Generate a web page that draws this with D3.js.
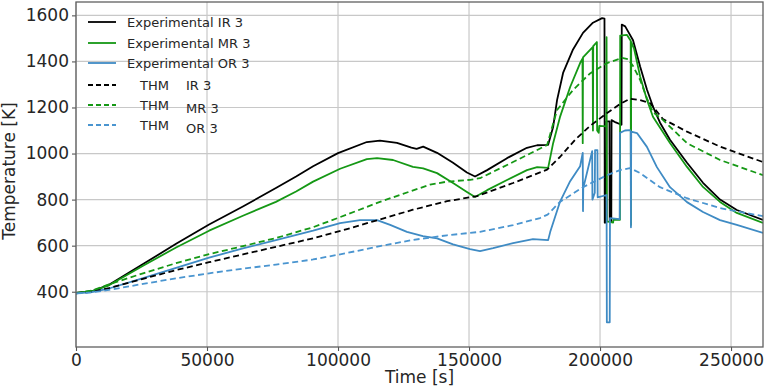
<!DOCTYPE html>
<html lang="en">
<head>
    <meta charset="UTF-8">
    <title>Temperature</title>
    <script src="https://d3js.org/d3.v7.min.js"></script>
    <style>
        body { margin: 0; background: #fff; }
        text { font-family: "DejaVu Sans", sans-serif; fill: #262626; }
    </style>
</head>
<body>
    <div class="chart"></div>
    <script>
        // series: [time s, temperature K]
        const irExp = [[0,395],[6000,402],[12600,430],[25600,520],[38200,608],[50800,692],[63700,770],[76300,850],[84000,900],[90500,945],[100000,1002],[111000,1050],[116000,1056],[122500,1046],[128000,1026],[130000,1020],[132500,1030],[137800,1003],[143900,960],[149200,918],[152300,900],[156900,928],[164500,980],[172100,1025],[176000,1036],[180200,1038],[182100,1115],[183600,1232],[185900,1350],[189700,1452],[193500,1524],[197300,1568],[200800,1588],[201700,1586],[201800,700],[202400,700],[202500,1140],[203600,1140],[203700,705],[204300,705],[204400,1145],[206000,1135],[208200,1125],[208300,1560],[209600,1552],[212600,1492],[215300,1378],[217900,1278],[220200,1204],[222900,1134],[226700,1060],[233200,960],[239300,873],[245800,800],[252200,755],[262200,712]];
        const mrExp = [[0,395],[6000,402],[12600,428],[25600,513],[38200,592],[50800,665],[63700,730],[76300,790],[84000,835],[90500,878],[100800,934],[111000,976],[114900,980],[121000,972],[128600,942],[132500,936],[137800,915],[143900,872],[149200,833],[152300,811],[156900,841],[164500,885],[172100,928],[176000,941],[180200,938],[182100,1045],[184700,1158],[188600,1289],[192400,1393],[193300,1412],[193400,1045],[193500,1418],[197200,1462],[197300,1100],[197400,1466],[198800,1484],[198900,1100],[199500,1090],[199700,1120],[202400,1118],[202500,1505],[202600,705],[205000,700],[205100,712],[207600,712],[207700,1512],[210300,1515],[211700,1490],[211800,690],[211900,1485],[213000,1455],[215300,1335],[217900,1234],[220200,1160],[226700,1046],[233200,942],[239300,855],[245800,790],[252200,742],[262200,699]];
        const orExp = [[0,393],[6000,398],[12600,414],[25600,459],[38200,504],[50800,548],[63700,588],[76300,624],[90500,665],[100800,698],[108400,711],[114900,711],[119900,690],[126300,660],[132400,641],[137800,632],[143900,606],[150400,585],[154200,576],[159200,589],[166800,611],[174400,628],[180200,624],[181000,660],[184700,790],[188600,880],[192400,945],[193400,1003],[193500,750],[193600,850],[197000,1010],[197100,800],[198000,830],[198100,1015],[199000,1015],[199100,810],[202500,820],[202600,267],[203700,267],[203800,720],[207500,715],[207600,1090],[209500,1100],[211400,1102],[211700,1098],[211800,680],[211900,1095],[214100,1089],[217900,1029],[221700,941],[226700,854],[233200,789],[239300,746],[245800,711],[252200,690],[262200,655]];
        const thmIR = [[0,393],[6000,400],[12600,416],[25600,456],[38200,494],[50800,528],[63700,562],[76300,595],[90500,632],[103400,672],[116000,714],[128600,756],[141600,793],[153000,815],[166800,872],[179800,930],[184700,985],[190500,1060],[196200,1120],[202700,1176],[207600,1215],[211400,1238],[215300,1232],[219100,1219],[224000,1150],[233200,1095],[245800,1030],[262200,963]];
        const thmMR = [[0,393],[6000,405],[12600,432],[25600,480],[38200,524],[50800,563],[63700,598],[76300,633],[90500,680],[103400,735],[116000,790],[124800,825],[135100,865],[141600,878],[150400,886],[154200,893],[166800,963],[179800,1037],[183600,1189],[189700,1276],[196200,1348],[202700,1393],[208400,1415],[210700,1410],[212600,1380],[215300,1320],[217900,1240],[220200,1180],[224000,1146],[233200,1045],[245800,972],[262200,906]];
        const thmOR = [[0,393],[6000,397],[12600,408],[25600,434],[38200,458],[50800,480],[63700,500],[76300,518],[90500,540],[103400,568],[116000,598],[128600,625],[141600,645],[154200,660],[166800,689],[177100,720],[180000,735],[184700,790],[193500,854],[202700,906],[207600,928],[211400,937],[215300,915],[222900,854],[233200,806],[245800,763],[262200,728]];

        const xTicks = [0, 50000, 100000, 150000, 200000, 250000];
        const yTicks = [400, 600, 800, 1000, 1200, 1400, 1600];

        const w = 768, h = 388,
            margin = { top: 2, right: 5, bottom: 41, left: 76 };

        let svg = d3.select(".chart").append("svg").attr("width", w).attr("height", h);

        const x = d3.scaleLinear().domain([0, 262200]).range([margin.left, w - margin.right]);
        const y = d3.scaleLinear().domain([160, 1658]).range([h - margin.bottom, margin.top]);

        // grid
        svg.append("g").selectAll("line").data(xTicks).enter().append("line")
            .attr("x1", d => x(d)).attr("x2", d => x(d))
            .attr("y1", margin.top).attr("y2", h - margin.bottom)
            .attr("stroke", "#c8c8c8").attr("stroke-width", 1.2);
        svg.append("g").selectAll("line").data(yTicks).enter().append("line")
            .attr("x1", margin.left).attr("x2", w - margin.right)
            .attr("y1", d => y(d)).attr("y2", d => y(d))
            .attr("stroke", "#c8c8c8").attr("stroke-width", 1.2);

        // axes
        const xAxis = svg.append("g")
            .attr("transform", `translate(0, ${h - margin.bottom})`)
            .call(d3.axisBottom(x).tickValues(xTicks).tickFormat(d3.format("d")).tickSizeOuter(0).tickSize(4).tickPadding(3));
        const yAxis = svg.append("g")
            .attr("transform", `translate(${margin.left}, 0)`)
            .call(d3.axisLeft(y).tickValues(yTicks).tickFormat(d3.format("d")).tickSizeOuter(0).tickSize(4).tickPadding(3));
        [xAxis, yAxis].forEach(a => {
            a.select(".domain").remove();
            a.selectAll(".tick line").attr("stroke", "#555").attr("stroke-width", 1.1);
            a.selectAll("text").style("font-size", "17px").style("font-family", "DejaVu Sans").attr("fill", "#262626");
        });

        // clip + lines
        svg.append("clipPath").attr("id", "clip").append("rect")
            .attr("x", margin.left).attr("y", margin.top)
            .attr("width", w - margin.left - margin.right).attr("height", h - margin.top - margin.bottom);

        const line = d3.line().x(d => x(d[0])).y(d => y(d[1]));
        const series = [
            { data: irExp, color: "#000000", dash: null, name: "Experimental IR 3" },
            { data: mrExp, color: "#159815", dash: null, name: "Experimental MR 3" },
            { data: orExp, color: "#3f8bc4", dash: null, name: "Experimental OR 3" },
            { data: thmIR, color: "#000000", dash: "6,3.5", name: "IR 3" },
            { data: thmMR, color: "#159815", dash: "6,3.5", name: "MR 3" },
            { data: thmOR, color: "#4a95d0", dash: "6,3.5", name: "OR 3" }
        ];
        let plot = svg.append("g").attr("clip-path", "url(#clip)");
        series.forEach(s => {
            plot.append("path").datum(s.data)
                .attr("d", line)
                .attr("fill", "none")
                .attr("stroke", s.color)
                .attr("stroke-width", 1.8)
                .attr("stroke-linejoin", "round")
                .attr("stroke-dasharray", s.dash);
        });

        // frame
        svg.append("rect")
            .attr("x", margin.left).attr("y", margin.top)
            .attr("width", w - margin.left - margin.right).attr("height", h - margin.top - margin.bottom)
            .attr("fill", "none").attr("stroke", "#606060").attr("stroke-width", 1.3);

        // legend
        const rowsY = [22, 43, 63, 85, 105, 125];
        let legend = svg.append("g");
        series.forEach((s, i) => {
            legend.append("line")
                .attr("x1", 88).attr("x2", 116)
                .attr("y1", rowsY[i]).attr("y2", rowsY[i])
                .attr("stroke", s.color).attr("stroke-width", 1.8)
                .attr("stroke-dasharray", s.dash ? "5,3" : null);
            if (i < 3) {
                legend.append("text").attr("x", 127).attr("y", rowsY[i] + 5)
                    .style("font-size", "13px").text(s.name);
            } else {
                legend.append("text").attr("x", 140).attr("y", rowsY[i] + 5)
                    .style("font-size", "13px").text("THM");
                legend.append("text").attr("x", 186).attr("y", rowsY[i] + 5 + (i > 3 ? 3 : 0))
                    .style("font-size", "13px").text(s.name);
            }
        });

        // axis labels
        svg.append("text")
            .attr("x", (margin.left + w - margin.right) / 2).attr("y", 383)
            .attr("text-anchor", "middle").style("font-size", "17px").text("Time [s]");
        svg.append("text")
            .attr("transform", `translate(15, 171) rotate(-90)`)
            .attr("text-anchor", "middle").style("font-size", "17px").text("Temperature [K]");
    </script>
</body>
</html>
